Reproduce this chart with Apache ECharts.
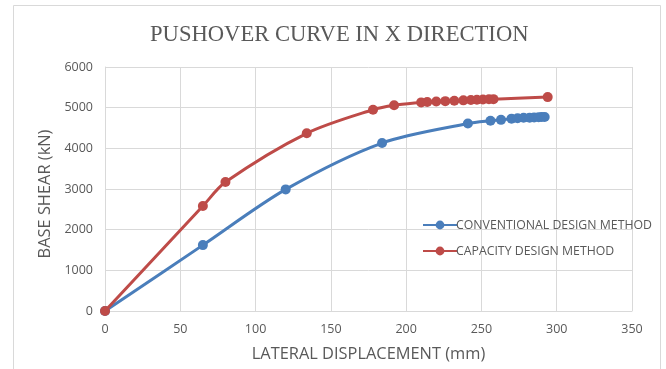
<!DOCTYPE html>
<html>
<head>
<meta charset="utf-8">
<style>
  html, body { margin: 0; padding: 0; background: #fff; }
  #chart { width: 666px; height: 369px; }
</style>
<script src="https://cdn.jsdelivr.net/npm/echarts@6/dist/echarts.min.js"></script>
</head>
<body>
<div id="chart"></div>
<script>
// Pushover curves: lateral displacement (mm) vs base shear (kN)
const conventionalDisp  = [0, 65, 120, 184, 241, 256, 263, 270, 274, 278, 282, 285, 288, 290, 292];
const conventionalShear = [0, 1620, 2990, 4130, 4610, 4680, 4700, 4730, 4740, 4750, 4755, 4760, 4765, 4770, 4770];
const capacityDisp  = [0, 65, 80, 134, 178, 192, 210, 214, 220, 226, 232, 238, 243, 247, 251, 255, 258, 294];
const capacityShear = [0, 2580, 3170, 4370, 4950, 5060, 5130, 5140, 5150, 5160, 5170, 5180, 5190, 5195, 5200, 5205, 5210, 5260];

const xTicks = [0, 50, 100, 150, 200, 250, 300, 350];
const yTicks = [0, 1000, 2000, 3000, 4000, 5000, 6000];

const pair = (xs, ys) => xs.map((x, i) => [x, ys[i]]);

const textColor = '#595959';
const gridColor = '#d9d9d9';
const uiFont = '"Open Sans", "Liberation Sans", sans-serif';

const chart = echarts.init(document.getElementById('chart'), null, { renderer: 'canvas' });
chart.setOption({
  animation: false,
  backgroundColor: '#ffffff',
  graphic: [{
    type: 'rect',
    shape: { x: 13.5, y: 5.5, width: 647, height: 380 },
    style: { fill: 'none', stroke: gridColor, lineWidth: 1 },
    silent: true
  }],
  title: {
    text: 'PUSHOVER CURVE IN X DIRECTION',
    left: 145,
    top: 19,
    textStyle: {
      fontFamily: '"Liberation Serif", "DejaVu Serif", serif',
      fontWeight: 'normal',
      fontSize: 22.6,
      color: textColor
    }
  },
  legend: {
    orient: 'vertical',
    left: 417,
    top: 214,
    itemGap: 14,
    itemWidth: 34,
    itemHeight: 11,
    textStyle: { fontFamily: uiFont, fontSize: 12.3, color: textColor, padding: [0, 0, 0, -6] },
    data: ['CONVENTIONAL DESIGN METHOD', 'CAPACITY DESIGN METHOD']
  },
  grid: { left: 105, right: 34, top: 67, bottom: 58 },
  xAxis: {
    type: 'value',
    min: xTicks[0],
    max: xTicks[xTicks.length - 1],
    interval: 50,
    name: 'LATERAL DISPLACEMENT (mm)',
    nameLocation: 'middle',
    nameGap: 35,
    nameTextStyle: { fontFamily: uiFont, fontSize: 16.4, color: textColor },
    axisLine: { show: true, onZero: false, lineStyle: { color: gridColor } },
    axisTick: { show: false },
    axisLabel: { fontFamily: uiFont, fontSize: 12.5, color: textColor, margin: 12 },
    splitLine: { show: true, lineStyle: { color: gridColor } }
  },
  yAxis: {
    type: 'value',
    min: yTicks[0],
    max: yTicks[yTicks.length - 1],
    interval: 1000,
    name: 'BASE SHEAR (kN)',
    nameLocation: 'middle',
    nameGap: 52,
    nameRotate: 90,
    nameTextStyle: { fontFamily: uiFont, fontSize: 16.4, color: textColor, padding: [0, 10, 0, 0] },
    axisLine: { show: true, lineStyle: { color: gridColor } },
    axisTick: { show: false },
    axisLabel: { fontFamily: uiFont, fontSize: 12.5, color: textColor, margin: 12, formatter: v => String(v) },
    splitLine: { show: true, lineStyle: { color: gridColor } }
  },
  series: [
    {
      name: 'CONVENTIONAL DESIGN METHOD',
      type: 'line',
      smooth: 0.3,
      data: pair(conventionalDisp, conventionalShear),
      symbol: 'circle',
      symbolSize: 10,
      itemStyle: { color: '#4a7ebb' },
      lineStyle: { color: '#4a7ebb', width: 3 },
      z: 3
    },
    {
      name: 'CAPACITY DESIGN METHOD',
      type: 'line',
      smooth: 0.3,
      data: pair(capacityDisp, capacityShear),
      symbol: 'circle',
      symbolSize: 10,
      itemStyle: { color: '#be4b48' },
      lineStyle: { color: '#be4b48', width: 3 },
      z: 4
    }
  ]
});
</script>
</body>
</html>
